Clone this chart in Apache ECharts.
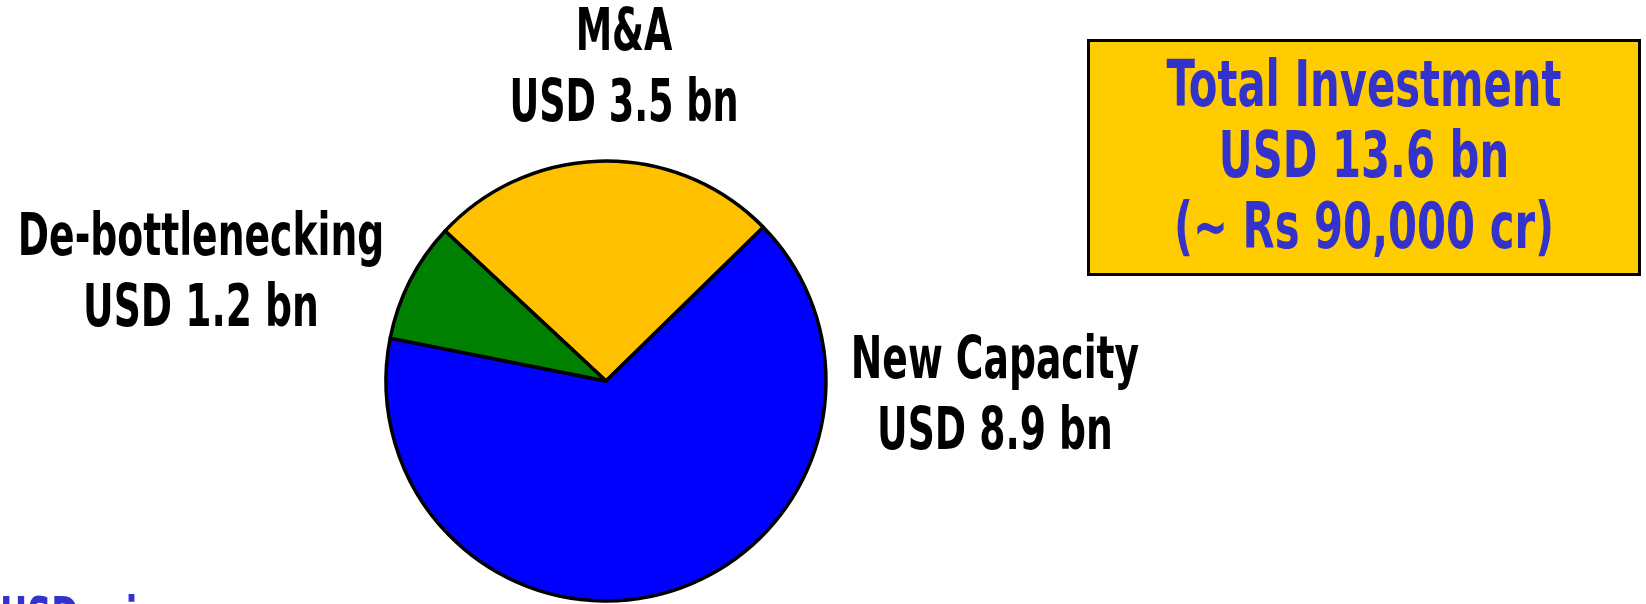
<!DOCTYPE html>
<html>
<head>
<meta charset="utf-8">
<script src="https://cdn.jsdelivr.net/npm/echarts@6/dist/echarts.min.js"></script>
<style>
html,body{margin:0;padding:0;background:#fff;}
#c{width:1646px;height:604px;}
</style>
</head>
<body>
<div id="c"></div>
<script>
// ---- data ----
const categories = ['M&A', 'New Capacity', 'De-bottlenecking'];
const valuesUsdBn = [3.5, 8.9, 1.2];
const boxLines = ['Total Investment', 'USD 13.6 bn', '(~ Rs 90,000 cr)'];
const footnote = 'USD mi';

// ---- layout / style ----
const sliceColors = ['#FFC000', '#0000FF', '#008000'];
const labelPos = [[624, 70], [995, 398], [201, 275]];
const FONT = '"DejaVu Sans Condensed", "DejaVu Sans", sans-serif';
const NARROW = 0.69;

const labelTexts = categories.map((n, i) => ({
  type: 'text',
  x: labelPos[i][0],
  y: labelPos[i][1],
  scaleX: i === 0 ? NARROW : 0.71,
  silent: true,
  style: {
    text: n + '\nUSD ' + valuesUsdBn[i] + ' bn',
    align: 'center',
    verticalAlign: 'middle',
    fill: '#000',
    fontFamily: FONT,
    fontWeight: 'bold',
    fontSize: 59,
    lineHeight: 71
  }
}));

const chart = echarts.init(document.getElementById('c'), null, {renderer: 'canvas'});
chart.setOption({
  backgroundColor: '#ffffff',
  animation: false,
  series: [{
    type: 'pie',
    center: [606, 381],
    radius: 220,
    startAngle: 137,
    clockwise: true,
    avoidLabelOverlap: false,
    silent: true,
    data: categories.map((n, i) => ({
      name: n,
      value: valuesUsdBn[i],
      itemStyle: {color: sliceColors[i]}
    })),
    itemStyle: {borderColor: '#000', borderWidth: 3.5},
    label: {show: false},
    labelLine: {show: false}
  }],
  graphic: [
    {
      type: 'rect',
      shape: {x: 1088.5, y: 40.5, width: 551, height: 234},
      style: {fill: '#FFCC00', stroke: '#000', lineWidth: 3},
      silent: true
    },
    {
      type: 'text',
      x: 1364, y: 160,
      scaleX: 0.725,
      style: {
        text: boxLines.join('\n'),
        align: 'center',
        verticalAlign: 'middle',
        fill: '#3333CC',
        fontFamily: FONT,
        fontWeight: 'bold',
        fontSize: 64,
        lineHeight: 71
      },
      silent: true
    },
    {
      type: 'text',
      x: 0, y: 621,
      scaleX: NARROW,
      style: {
        text: footnote,
        align: 'left',
        verticalAlign: 'middle',
        fill: '#3333CC',
        fontFamily: FONT,
        fontWeight: 'bold',
        fontSize: 54
      },
      silent: true
    }
  ].concat(labelTexts)
});
</script>
</body>
</html>
